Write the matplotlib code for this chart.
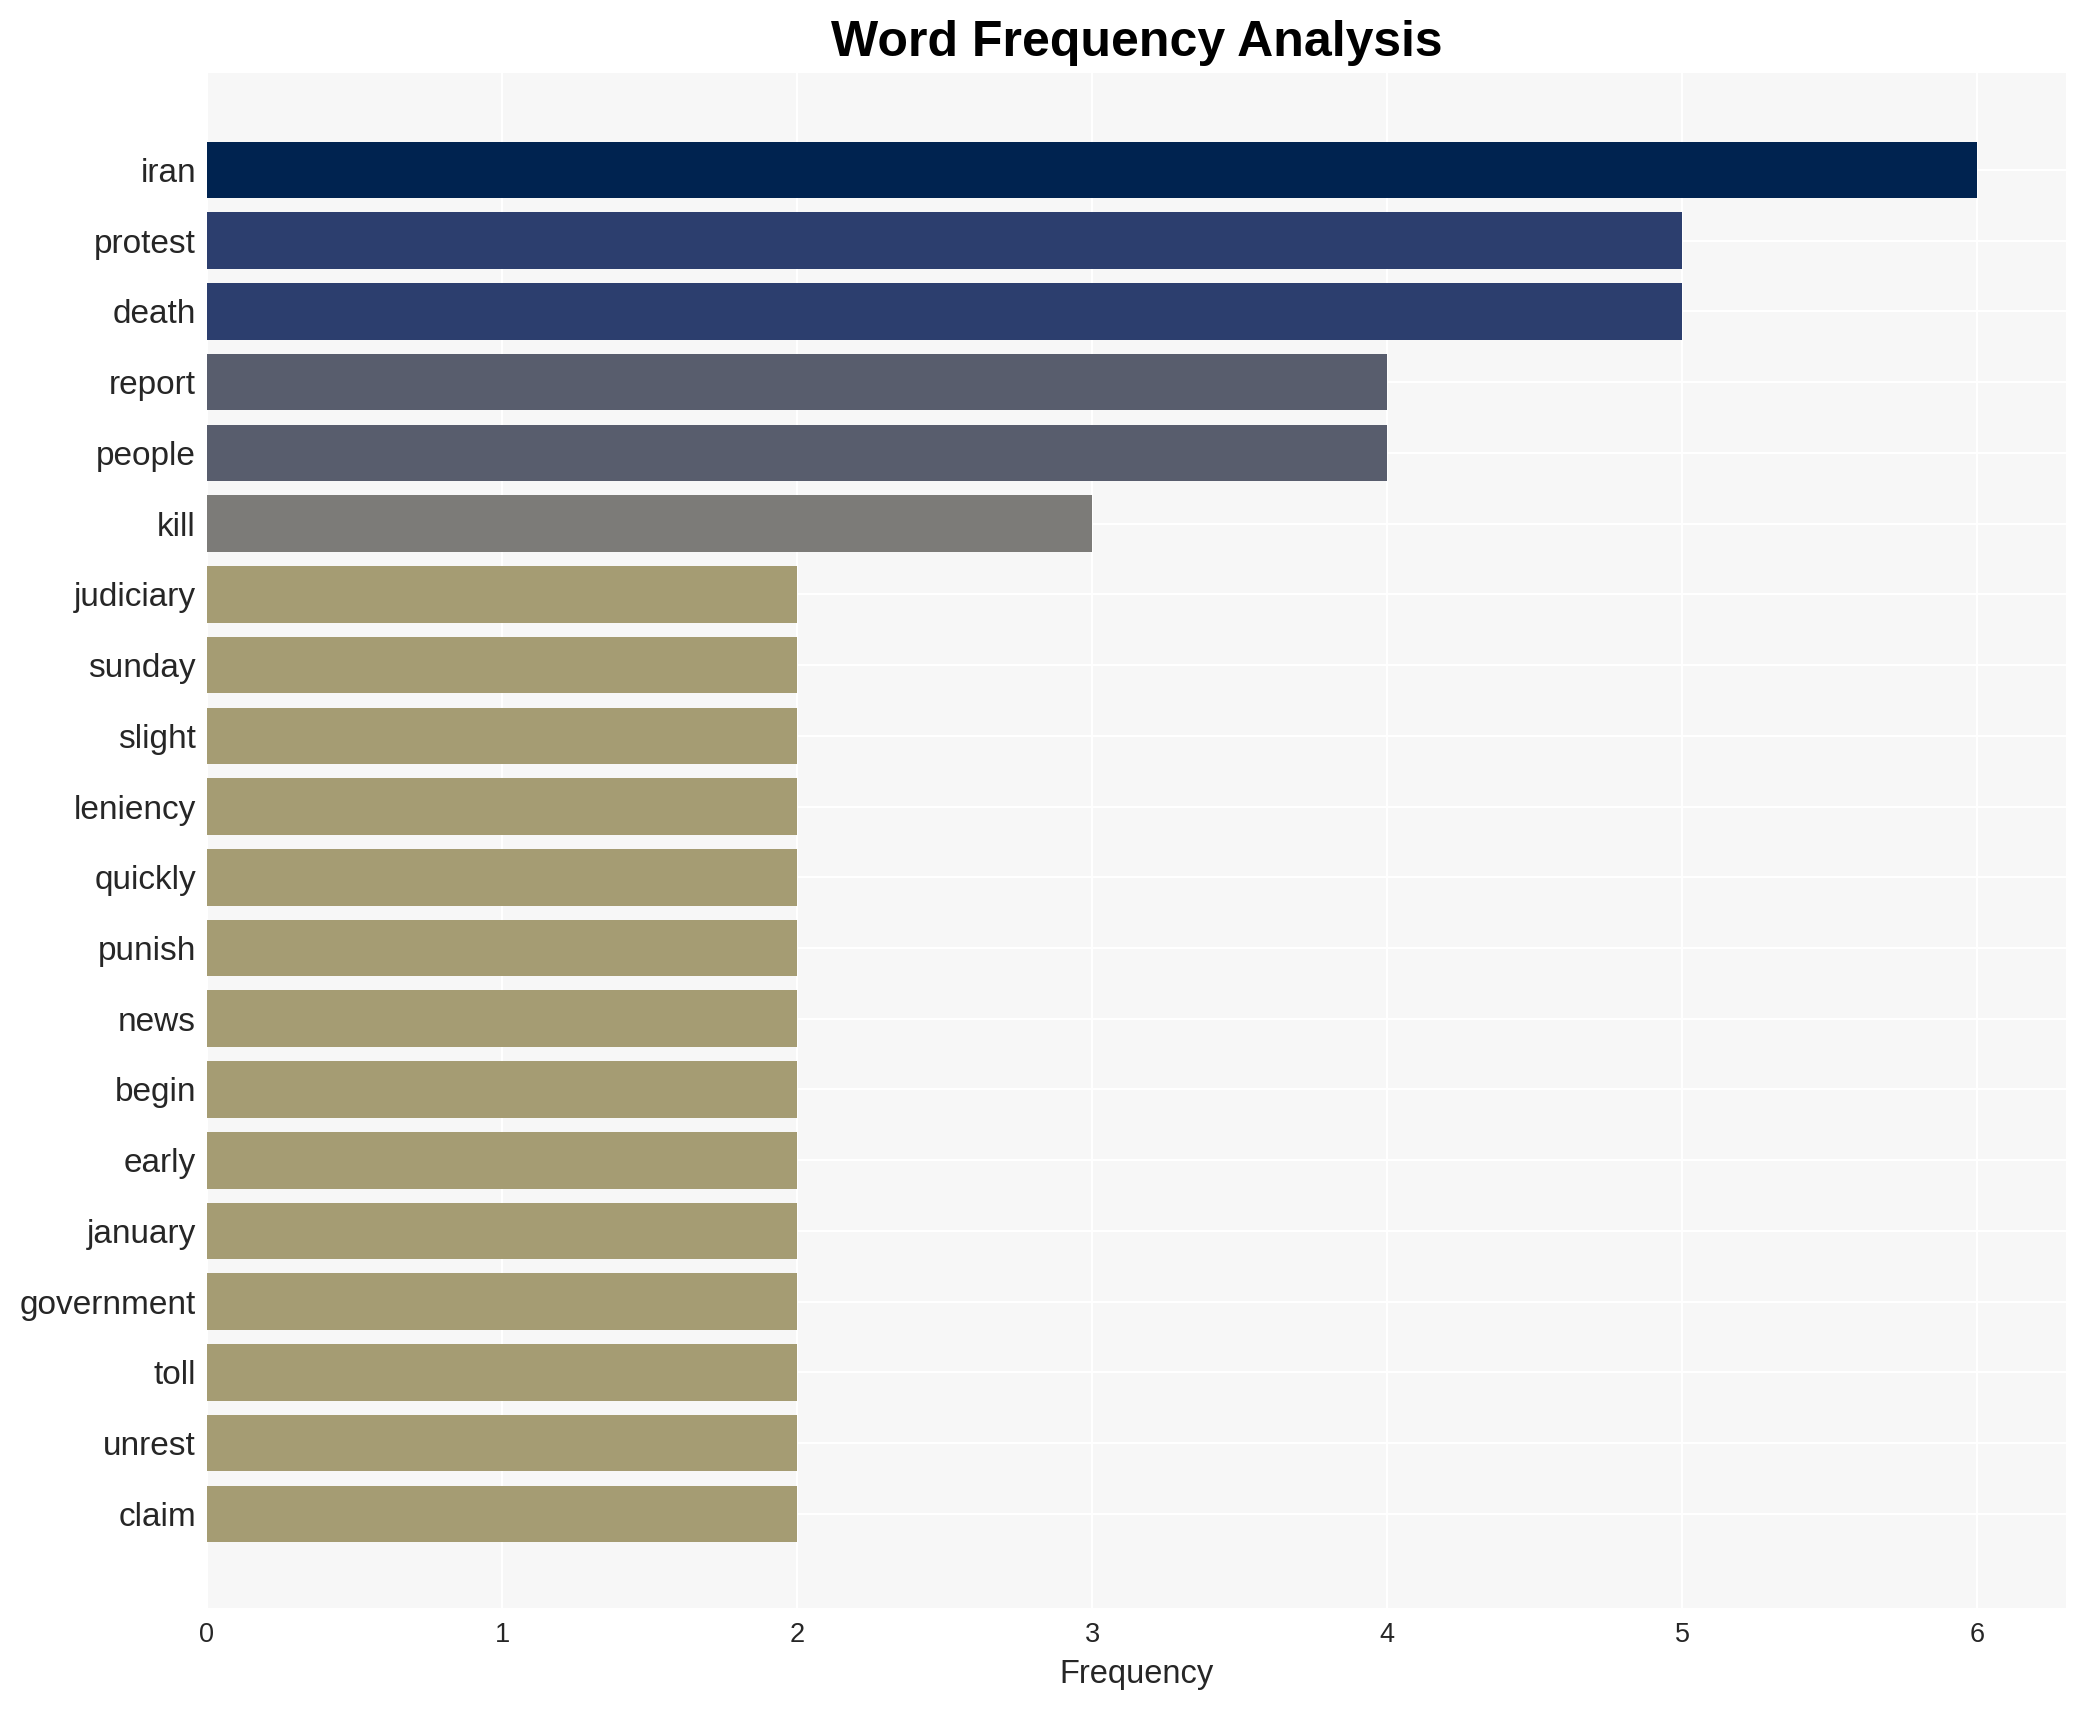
import matplotlib
matplotlib.use('Agg')
import matplotlib.pyplot as plt

plt.rcParams['font.family'] = ['Liberation Sans', 'DejaVu Sans']

words = ['iran', 'protest', 'death', 'report', 'people', 'kill', 'judiciary',
         'sunday', 'slight', 'leniency', 'quickly', 'punish', 'news', 'begin',
         'early', 'january', 'government', 'toll', 'unrest', 'claim']
counts = [6, 5, 5, 4, 4, 3, 2, 2, 2, 2, 2, 2, 2, 2, 2, 2, 2, 2, 2, 2]

# colour per frequency level
level_colors = {6: '#002350', 5: '#2c3e6e', 4: '#585d6d', 3: '#7c7b78', 2: '#a59c73'}
colors = [level_colors[c] for c in counts]

fig = plt.figure(figsize=(20.85, 17.1), dpi=100)
ax = fig.add_axes([207 / 2085, 1 - 1608 / 1710, (2066 - 207) / 2085, (1608 - 73) / 1710])
ax.set_facecolor('#f7f7f7')
ax.set_axisbelow(True)
ax.grid(True, color='white', linewidth=1.5)

ypos = list(range(len(words)))
ax.barh(ypos, counts, height=0.8, color=colors)

ax.set_yticks(ypos)
ax.set_yticklabels(words, fontsize=24, color='#262626')
ax.set_xticks(range(0, 7))
ax.tick_params(axis='x', labelsize=19.5, colors='#262626', length=0, pad=10)
ax.tick_params(axis='y', length=0, pad=8)
ax.set_xlim(0, 6.3)
ax.set_ylim(len(words) - 1 + 1.33, -1.37)

for s in ax.spines.values():
    s.set_visible(False)

ax.set_xlabel('Frequency', fontsize=23.5, color='#262626', labelpad=8)
ax.set_title('Word Frequency Analysis', fontsize=36, fontweight='bold', pad=12)

fig.savefig('out.png', dpi=100, facecolor='white')
